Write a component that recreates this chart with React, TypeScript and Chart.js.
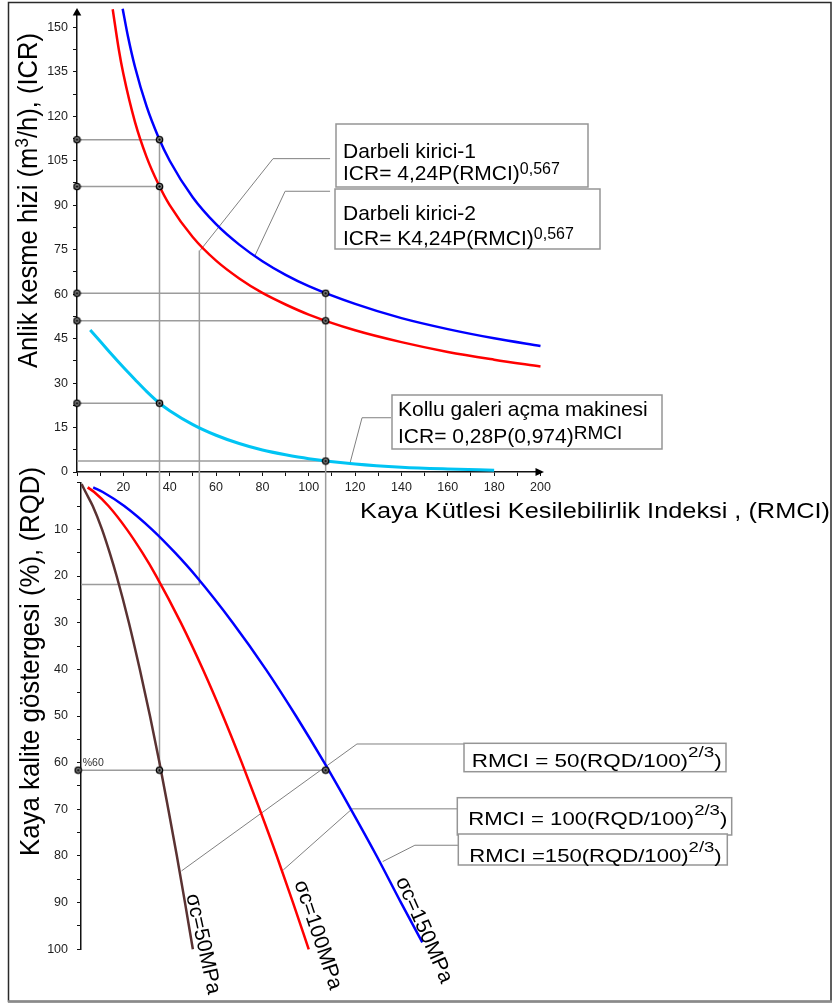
import React, { useEffect, useRef } from "react";
import { Chart, registerables } from "chart.js";

Chart.register(...registerables);

const FONT = '"Liberation Sans", Arial, Helvetica, sans-serif';

// ---------------- Data: upper panel (x = RMCI, y = ICR m3/h) ----------------
// Darbeli kirici-1 (red)
const rmciK1 = [15.4, 18, 20, 25, 30, 35, 40, 50, 60, 70, 80, 90, 100, 120, 140, 160, 180, 200];
const icrK1 = [156.1, 142.7, 134.3, 118.1, 106.3, 97.3, 90.0, 79.2, 71.3, 65.3, 60.4, 56.5, 53.1, 47.8, 43.8, 40.5, 37.9, 35.6];
// Darbeli kirici-2 (blue)
const rmciK2 = [19.7, 22, 25, 30, 35, 40, 50, 60, 70, 80, 90, 100, 120, 140, 160, 180, 200];
const icrK2 = [156.3, 146.9, 136.7, 123.4, 113.2, 105.0, 92.6, 83.6, 76.7, 71.1, 66.5, 62.7, 56.7, 51.9, 48.2, 45.1, 42.5];
// Kollu galeri acma makinesi (cyan)
const rmciKollu = [5.7, 10, 15, 20, 25, 30, 35.6, 40, 50, 60, 70, 80, 90, 100, 120, 140, 160, 180];
const icrKollu = [47.9, 44.1, 39.6, 35.3, 31.2, 27.2, 23.2, 20.7, 16.0, 12.4, 9.6, 7.4, 5.8, 4.5, 2.7, 1.6, 1.0, 0.6];

// ---------------- Data: lower panel (x = RMCI, y = RQD %) ----------------
const rqd50 = [0.3, 2, 5, 10, 15, 20, 30, 40, 50, 60, 70, 80, 90, 100];
const rmci50 = [2.0, 3.7, 6.8, 10.8, 14.1, 17.1, 22.4, 27.1, 31.5, 35.6, 39.4, 43.1, 46.6, 50.0];
const rqd100 = [1, 2, 5, 10, 15, 20, 30, 40, 50, 60, 70, 80, 90, 100];
const rmci100 = [4.6, 7.4, 13.6, 21.5, 28.2, 34.2, 44.8, 54.3, 63.0, 71.1, 78.8, 86.2, 93.2, 100];
const rqd150 = [1, 2, 5, 10, 15, 20, 30, 40, 50, 60, 70, 80, 90, 98.5];
const rmci150 = [7.0, 11.1, 20.4, 32.3, 42.3, 51.3, 67.2, 81.5, 94.5, 106.7, 118.2, 129.3, 139.8, 149.0];

// ---------------- Worked-example reading lines ----------------
const exRmci = [35.6, 107.3];
const exIcrK2 = [112.1, 60.3];
const exIcrK1 = [96.3, 51.0];
const exIcrKollu = [23.2, 3.7];
const exRqd = [61.6, 61.6];
const exRqdAxisRmci = 0.5;
const extraRmci = 52.8;
const extraIcr = 74.7;
const extraRqd = 21.8;
const joinRqd = -2.3; // where lower-panel verticals meet the RMCI axis
const lowerAxisRmci = 1.73;

// ---------------- Axis ticks ----------------
const xTickStep = 10;
const xLabelEvery = 20;
const icrTickStep = 7.5;
const icrLabelEvery = 15;
const rqdTickStep = 5;
const rqdLabelEvery = 10;

// ---------------- Annotation leader lines (data units) ----------------
const leadersTop = [
  [[109.2, 105.7], [84.6, 105.7], [53.1, 74.7]],
  [[109.2, 94.7], [89.8, 94.7], [76.8, 73.0]],
  [[135.5, 18.3], [123.0, 18.3], [117.8, 3.0]],
];
const leadersBottom = [
  [[167.0, 56.0], [120.8, 56.0], [45.1, 83.2]],
  [[164.0, 69.9], [118.7, 69.9], [89.0, 83.0]],
  [[164.4, 77.7], [145.8, 77.7], [131.9, 81.2]],
];

type Seg = { t: string; sup?: boolean };

function pts(xs: number[], ys: number[]) {
  return xs.map((x, i) => ({ x, y: ys[i] }));
}
function pairs(p: number[][]) {
  return p.map(([x, y]) => ({ x, y }));
}

function drawRich(
  ctx: CanvasRenderingContext2D,
  segs: Seg[],
  x: number,
  y: number,
  o: { size: number; sup?: number; raise?: number; rot?: number; align?: string; fit?: number; color?: string; baseline?: CanvasTextBaseline }
) {
  ctx.save();
  ctx.translate(x, y);
  if (o.rot) ctx.rotate(o.rot);
  const fMain = `${o.size}px ${FONT}`;
  const fSup = `${o.sup || o.size * 0.75}px ${FONT}`;
  const widths = segs.map((s) => {
    ctx.font = s.sup ? fSup : fMain;
    return ctx.measureText(s.t).width;
  });
  const total = widths.reduce((a, b) => a + b, 0);
  if (o.fit) ctx.scale(o.fit / total, 1);
  let cx = o.align === "center" ? -total / 2 : 0;
  ctx.textAlign = "left";
  ctx.textBaseline = o.baseline || "alphabetic";
  ctx.fillStyle = o.color || "#000";
  segs.forEach((s, i) => {
    ctx.font = s.sup ? fSup : fMain;
    ctx.fillText(s.t, cx, s.sup ? -(o.raise || 0) : 0);
    cx += widths[i];
  });
  ctx.restore();
}

const topBoxes = [
  {
    x: 336, y: 124, w: 252, h: 63, size: 21, sup: 16, raise: 5.5,
    lines: [
      { x: 343, y: 157.5, segs: [{ t: "Darbeli kirici-1" }] },
      { x: 343, y: 179.5, segs: [{ t: "ICR= 4,24P(RMCI)" }, { t: "0,567", sup: true }] },
    ],
  },
  {
    x: 335, y: 189, w: 265, h: 60, size: 21, sup: 16, raise: 6,
    lines: [
      { x: 343, y: 220, segs: [{ t: "Darbeli kirici-2" }] },
      { x: 343, y: 245, segs: [{ t: "ICR= K4,24P(RMCI)" }, { t: "0,567", sup: true }] },
    ],
  },
  {
    x: 392, y: 395, w: 270, h: 54, size: 21, sup: 19, raise: 3.5,
    lines: [
      { x: 398, y: 415.5, segs: [{ t: "Kollu galeri açma makinesi" }] },
      { x: 398, y: 442.5, segs: [{ t: "ICR= 0,28P(0,974)" }, { t: "RMCI", sup: true }] },
    ],
  },
];

const bottomBoxes = [
  { x: 464, y: 743.3, w: 262, h: 28.4, tx: 471.7, ty: 767.3, fit: 250, main: "RMCI = 50(RQD/100)" },
  { x: 457.3, y: 797.7, w: 274.4, h: 37.3, tx: 468.3, ty: 825, fit: 259, main: "RMCI = 100(RQD/100)" },
  { x: 458.3, y: 834, w: 269, h: 31, tx: 469.3, ty: 861.7, fit: 252.4, main: "RMCI =150(RQD/100)" },
];

const sigmaLabels = [
  { t: "σc=50MPa", x: 192, y: 894, ang: 77.7 },
  { t: "σc=100MPa", x: 299.8, y: 881, ang: 71.6 },
  { t: "σc=150MPa", x: 400.9, y: 877.8, ang: 66.2 },
];

function drawBox(ctx: CanvasRenderingContext2D, b: { x: number; y: number; w: number; h: number }) {
  ctx.save();
  ctx.fillStyle = "#fff";
  ctx.fillRect(b.x, b.y, b.w, b.h);
  ctx.strokeStyle = "#959595";
  ctx.lineWidth = 1.5;
  ctx.strokeRect(b.x, b.y, b.w, b.h);
  ctx.restore();
}

function makeMarker() {
  const c = document.createElement("canvas");
  c.width = 9;
  c.height = 9;
  const g = c.getContext("2d")!;
  g.beginPath();
  g.arc(4.5, 4.5, 3.1, 0, Math.PI * 2);
  g.fillStyle = "#9a9a9a";
  g.fill();
  g.strokeStyle = "#000";
  g.lineWidth = 1.4;
  g.stroke();
  g.beginPath();
  g.arc(4.5, 4.5, 1.2, 0, Math.PI * 2);
  g.fillStyle = "#000";
  g.fill();
  return c;
}

const GUIDE = "#9c9c9c";
const LEADER = "#808080";

function lineDs(data: any[], color: string, width: number, order: number, smooth = false) {
  return {
    data,
    borderColor: color,
    borderWidth: width,
    pointRadius: 0,
    fill: false,
    clip: false as any,
    order,
    tension: 0,
    cubicInterpolationMode: smooth ? "monotone" : "default",
  };
}

function markerDs(data: any[], marker: HTMLCanvasElement) {
  return {
    data,
    showLine: false,
    pointStyle: marker,
    pointRadius: 4,
    pointBorderWidth: 0,
    clip: false as any,
    order: 0,
  };
}

const tickFont = { family: FONT, size: 12.5 };
const TICK_COLOR = "#1e1e1e";

export default function App() {
  const topRef = useRef<HTMLCanvasElement>(null);
  const botRef = useRef<HTMLCanvasElement>(null);

  useEffect(() => {
    const marker = makeMarker();

    // ---------- upper chart ----------
    const topGuides: any[] = [];
    exRmci.forEach((r, i) => {
      topGuides.push(lineDs([{ x: 0, y: exIcrK2[i] }, { x: r, y: exIcrK2[i] }, { x: r, y: 0 }], GUIDE, 1.5, 3));
      topGuides.push(lineDs([{ x: 0, y: exIcrK1[i] }, { x: r, y: exIcrK1[i] }], GUIDE, 1.5, 3));
      topGuides.push(lineDs([{ x: 0, y: exIcrKollu[i] }, { x: r, y: exIcrKollu[i] }], GUIDE, 1.5, 3));
    });
    topGuides.push(lineDs([{ x: extraRmci, y: extraIcr }, { x: extraRmci, y: 0 }], GUIDE, 1.5, 3));
    const topLeaders = leadersTop.map((l) => lineDs(pairs(l), LEADER, 1, 2));
    const topMarkers: any[] = [];
    exRmci.forEach((r, i) => {
      topMarkers.push({ x: 0, y: exIcrK2[i] }, { x: 0, y: exIcrK1[i] });
      if (i === 0) topMarkers.push({ x: 0, y: exIcrKollu[i] });
      topMarkers.push({ x: r, y: exIcrK2[i] }, { x: r, y: exIcrK1[i] }, { x: r, y: exIcrKollu[i] });
    });

    const topDecor = {
      id: "topDecor",
      afterDraw(chart: any) {
        const ctx: CanvasRenderingContext2D = chart.ctx;
        const a = chart.chartArea;
        ctx.save();
        // axis arrows
        ctx.fillStyle = "#000";
        ctx.beginPath();
        ctx.moveTo(a.left, 8);
        ctx.lineTo(a.left - 4.3, 15.5);
        ctx.lineTo(a.left + 4.3, 15.5);
        ctx.closePath();
        ctx.fill();
        ctx.strokeStyle = "#111";
        ctx.lineWidth = 1.5;
        ctx.beginPath();
        ctx.moveTo(a.right, a.bottom);
        ctx.lineTo(537, a.bottom);
        ctx.stroke();
        ctx.beginPath();
        ctx.moveTo(544, a.bottom);
        ctx.lineTo(535.5, a.bottom - 4);
        ctx.lineTo(535.5, a.bottom + 4);
        ctx.closePath();
        ctx.fill();
        // frame
        ctx.strokeStyle = "#2a2a2a";
        ctx.lineWidth = 1.5;
        ctx.strokeRect(8.5, 2.5, 822.5, 999);
        ctx.strokeStyle = "#8a8a8a";
        ctx.lineWidth = 2.5;
        ctx.beginPath();
        ctx.moveTo(8, 1001.5);
        ctx.lineTo(832, 1001.5);
        ctx.stroke();
        ctx.restore();
        // titles
        drawRich(ctx, [{ t: "Anlik kesme hizi (m" }, { t: "3", sup: true }, { t: "/h), (ICR)" }], 36.7, 200.5,
          { size: 28, sup: 19, raise: 9, rot: -Math.PI / 2, align: "center", fit: 335 });
        drawRich(ctx, [{ t: "Kaya Kütlesi Kesilebilirlik Indeksi , (RMCI)" }], 360, 518,
          { size: 22, fit: 470 });
        // boxes
        topBoxes.forEach((b) => {
          drawBox(ctx, b);
          b.lines.forEach((ln) => drawRich(ctx, ln.segs, ln.x, ln.y, { size: b.size, sup: b.sup, raise: b.raise }));
        });
      },
    };

    const top = new Chart(topRef.current!, {
      type: "line",
      data: {
        datasets: [
          markerDs(topMarkers, marker),
          lineDs(pts(rmciK2, icrK2), "#0000ff", 2.5, 1, true),
          lineDs(pts(rmciK1, icrK1), "#ff0000", 2.5, 1, true),
          lineDs(pts(rmciKollu, icrKollu), "#00c4f4", 3, 1, true),
          ...topLeaders,
          ...topGuides,
        ] as any,
      },
      options: {
        responsive: false,
        animation: false,
        devicePixelRatio: 1,
        events: [],
        layout: { padding: { left: 0, top: 7, right: 294.5, bottom: 493 } },
        plugins: { legend: { display: false }, tooltip: { enabled: false } },
        scales: {
          x: {
            type: "linear",
            min: 0,
            max: 200,
            border: { display: true, color: "#111", width: 1.5 },
            grid: { display: true, drawOnChartArea: false, drawTicks: true, tickLength: 4, color: "#111" },
            ticks: {
              stepSize: xTickStep,
              autoSkip: false,
              includeBounds: false,
              maxRotation: 0,
              padding: 4,
              color: TICK_COLOR,
              font: tickFont,
              callback: (v: any) => (v % xLabelEvery === 0 && v !== 0 ? String(v) : ""),
            },
            afterFit: (s: any) => { s.height = 40; },
          },
          y: {
            type: "linear",
            min: 0,
            max: 155,
            border: { display: true, color: "#111", width: 1.5 },
            grid: { display: true, drawOnChartArea: false, drawTicks: true, tickLength: 4, color: "#111" },
            ticks: {
              stepSize: icrTickStep,
              autoSkip: false,
              includeBounds: false,
              padding: 5,
              color: TICK_COLOR,
              font: tickFont,
              callback: (v: any) => (Math.abs(v % icrLabelEvery) < 1e-6 ? String(v) : ""),
            },
            afterFit: (s: any) => { s.width = 77; },
          },
        },
      } as any,
      plugins: [topDecor],
    });

    // ---------- lower chart ----------
    const botGuides: any[] = [];
    exRmci.forEach((r, i) => {
      botGuides.push(lineDs([{ x: r, y: joinRqd }, { x: r, y: exRqd[i] }], GUIDE, 1.5, 3));
    });
    botGuides.push(lineDs([{ x: exRqdAxisRmci, y: exRqd[0] }, { x: exRmci[1], y: exRqd[0] }], GUIDE, 1.5, 3));
    botGuides.push(lineDs([{ x: extraRmci, y: joinRqd }, { x: extraRmci, y: extraRqd }, { x: lowerAxisRmci, y: extraRqd }], GUIDE, 1.5, 3));
    const botLeaders = leadersBottom.map((l) => lineDs(pairs(l), LEADER, 1, 2));
    const botMarkers = [
      { x: exRqdAxisRmci, y: exRqd[0] },
      { x: exRmci[0], y: exRqd[0] },
      { x: exRmci[1], y: exRqd[1] },
    ];

    const botDecor = {
      id: "botDecor",
      afterDraw(chart: any) {
        const ctx: CanvasRenderingContext2D = chart.ctx;
        drawRich(ctx, [{ t: "Kaya kalite göstergesi (%), (RQD)" }], 39, 661.5,
          { size: 28, rot: -Math.PI / 2, align: "center", fit: 389 });
        drawRich(ctx, [{ t: "%60" }], 82.7, 766, { size: 10.5, color: "#333" });
        bottomBoxes.forEach((b) => {
          drawBox(ctx, b);
          drawRich(ctx, [{ t: b.main }, { t: "2/3", sup: true }, { t: ")" }], b.tx, b.ty,
            { size: 18.5, sup: 15.5, raise: 10, fit: b.fit });
        });
        sigmaLabels.forEach((s) => {
          drawRich(ctx, [{ t: s.t }], s.x, s.y, { size: 21, rot: (s.ang * Math.PI) / 180, baseline: "middle" });
        });
      },
    };

    const bot = new Chart(botRef.current!, {
      type: "line",
      data: {
        datasets: [
          markerDs(botMarkers, marker),
          lineDs(pts(rmci50, rqd50), "#5a3232", 2.5, 1, true),
          lineDs(pts(rmci100, rqd100), "#ff0000", 2.5, 1, true),
          lineDs(pts(rmci150, rqd150), "#0000ff", 2.5, 1, true),
          ...botLeaders,
          ...botGuides,
        ] as any,
      },
      options: {
        responsive: false,
        animation: false,
        devicePixelRatio: 1,
        events: [],
        layout: { padding: { left: 0, top: 482.7, right: 294.5, bottom: 55.7 } },
        plugins: { legend: { display: false }, tooltip: { enabled: false } },
        scales: {
          x: { type: "linear", min: lowerAxisRmci, max: 200, display: false },
          y: {
            type: "linear",
            min: 0,
            max: 100,
            reverse: true,
            border: { display: true, color: "#111", width: 1.5 },
            grid: { display: true, drawOnChartArea: false, drawTicks: true, tickLength: 4, color: "#111" },
            ticks: {
              stepSize: rqdTickStep,
              autoSkip: false,
              includeBounds: false,
              padding: 9,
              color: TICK_COLOR,
              font: tickFont,
              callback: (v: any) => (v % rqdLabelEvery === 0 && v !== 0 ? String(v) : ""),
            },
            afterFit: (s: any) => { s.width = 81; },
          },
        },
      } as any,
      plugins: [botDecor],
    });

    return () => {
      top.destroy();
      bot.destroy();
    };
  }, []);

  return (
    <div style={{ position: "absolute", left: 0, top: 0, width: 835, height: 1005, background: "#fff" }}>
      <canvas ref={topRef} width={835} height={1005} style={{ position: "absolute", left: 0, top: 0 }} />
      <canvas ref={botRef} width={835} height={1005} style={{ position: "absolute", left: 0, top: 0 }} />
    </div>
  );
}
